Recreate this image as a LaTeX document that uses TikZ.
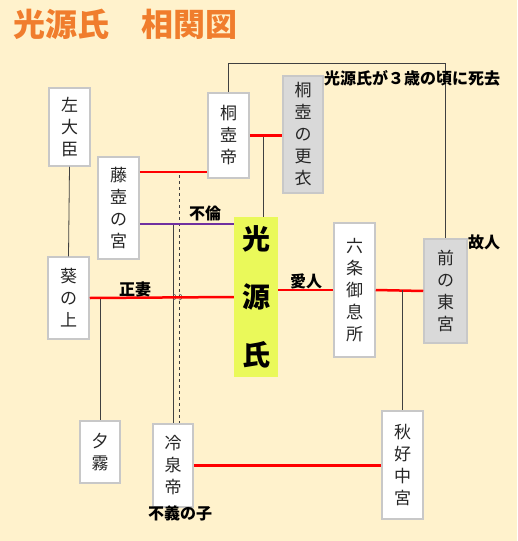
\documentclass[tikz,border=0pt]{standalone}
\usepackage{fontspec}
\setmainfont{Noto Sans CJK JP}
\usetikzlibrary{positioning}
\usetikzlibrary{calc}
\definecolor{bgcream}{RGB}{255,242,204}
\definecolor{titleorange}{RGB}{240,125,45}
\definecolor{boxline}{RGB}{200,200,200}
\definecolor{deadgray}{RGB}{217,217,217}
\definecolor{genjigreen}{RGB}{234,249,90}
\definecolor{affair}{RGB}{112,48,160}
\tikzstyle{person}=[draw=boxline,line width=1.5pt,fill=white,inner sep=0pt,align=center,text=black!85,font=\fontsize{17}{22}\selectfont]
\tikzstyle{dead}=[person,fill=deadgray]
\tikzstyle{marry}=[draw,red,line width=2.5pt]
\tikzstyle{child}=[draw,black!75,line width=0.8pt]
\tikzstyle{tag}=[font=\fontsize{16}{18}\selectfont\bfseries]

\begin{document}
\begin{tikzpicture}[x=1pt,y=-1pt]

  \fill[bgcream] (0,0) rectangle (517,541);
  \useasboundingbox (0,0) rectangle (517,541);

  \node[anchor=west,text=titleorange,font=\fontsize{32}{34}\selectfont\bfseries] (title) at (10,24) {光源氏　相関図};

  \foreach \x/\y/\w/\h/\name/\label in {69.5/127/41/78/sadaijin/{左\\大\\臣}, 228.5/135.5/41/85/kiritsubotei/{桐\\壺\\帝},
      118.5/208/41/102/fujitsubo/{藤\\壺\\の\\宮}, 68.5/298/41/82/aoi/{葵\\の\\上}, 354.5/290/41/134/rokujo/{六\\条\\御\\息\\所},
      100/452/40/62/yugiri/{夕\\霧}, 173/465.5/40/83/reizei/{冷\\泉\\帝}, 402.5/465/41/108/akikonomu/{秋\\好\\中\\宮}}
      \node[person, minimum width=\w pt, minimum height=\h pt] (\name) at (\x,\y) {\label};

  \foreach \x/\y/\w/\h/\name/\label in {303/134.5/40/117/koui/{桐\\壺\\の\\更\\衣}, 445.5/291/43/104/toguu/{前\\の\\東\\宮}}
      \node[dead, minimum width=\w pt, minimum height=\h pt] (\name) at (\x,\y) {\label};

  \node[fill=genjigreen,inner sep=0pt,minimum width=44pt,minimum height=160pt,align=center,
        font=\fontsize{28}{58}\selectfont\bfseries] (genji) at (256,297) {光\\源\\氏};

  % parents and children
  \draw[child] (kiritsubotei.north) -- (kiritsubotei.north |- 0,63) -| (toguu.north);
  \coordinate (kirichild) at ($(kiritsubotei.east)!0.41!(kiritsubotei.east -| koui.west)$);
  \draw[child] (kirichild) -- (kirichild |- genji.north);
  \draw[child] (sadaijin.south) -- (aoi.north);
  \draw[child] (yugiri.north |- aoi.east) -- (yugiri.north);
  \draw[child] (reizei.north |- 0,224) -- (reizei.north);
  \coordinate (realfather) at (179,175);
  \draw[child, dashed, line width=0.6pt] (realfather) -- (realfather |- reizei.north);
  \draw[child, black!60, line width=0.6pt] (173,294) .. controls (177,294) and (177,300) .. (173,300);
  \draw[child, black!60, line width=0.6pt] (179,294) .. controls (183,294) and (183,300) .. (179,300);

  % couples
  \draw[marry] (kiritsubotei.east) -- (kiritsubotei.east -| koui.west);
  \draw[marry] (fujitsubo.east |- 0,172) -- (kiritsubotei.west |- 0,172);
  \draw[marry] (aoi.east) -- (genji.west);
  \draw[marry] (rokujo.west -| genji.east) -- (rokujo.west);
  \draw[marry] (rokujo.east) -- (toguu.west);
  \draw[marry] (reizei.east) -- (reizei.east -| akikonomu.west);
  \draw[child] (akikonomu.north |- rokujo.east) -- (akikonomu.north);
  \draw[draw=affair, line width=2.5pt] (fujitsubo.east |- 0,224) -- (genji.west |- 0,224);

  \node[tag] (furin) at (205,213) {不倫};
  \node[tag] (seisai) at (135,289) {正妻};
  \node[tag] (aijin) at (306,281) {愛人};
  \node[tag] (kojin) at (484,242) {故人};
  \node[tag] (fugi) at (180,513) {不義の子};
  \node[tag] (shikyo) at (412,78) {光源氏が３歳の頃に死去};

\end{tikzpicture}
\end{document}
